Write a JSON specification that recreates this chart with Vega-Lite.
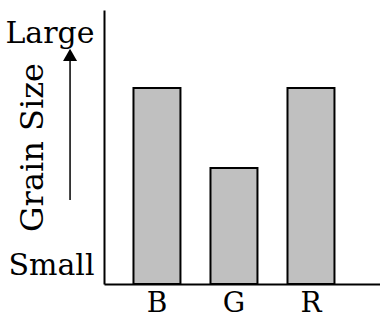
{
  "$schema": "https://vega.github.io/schema/vega-lite/v6.json",
  "width": 276,
  "height": 274,
  "autosize": "none",
  "padding": {"left": 104, "top": 10, "right": 0, "bottom": 35},
  "config": {
    "view": {"stroke": null},
    "font": "DejaVu Serif"
  },
  "resolve": {"scale": {"x": "independent"}},
  "layer": [
    {
      "data": {"values": [
        {"region": "B", "size": 0.715},
        {"region": "G", "size": 0.423},
        {"region": "R", "size": 0.715}
      ]},
      "mark": {"type": "bar", "fill": "#c0c0c0", "stroke": "black", "strokeWidth": 2},
      "encoding": {
        "x": {
          "field": "region", "type": "nominal",
          "scale": {"paddingInner": 0.39, "paddingOuter": 0.487, "align": 0.393},
          "axis": {
            "title": null, "labelAngle": 0, "ticks": false,
            "domainColor": "black", "domainWidth": 2,
            "labelFont": "DejaVu Serif", "labelFontSize": 28, "labelColor": "black",
            "labelPadding": 5
          }
        },
        "y": {
          "field": "size", "type": "quantitative",
          "scale": {"domain": [0, 1], "nice": false},
          "axis": {
            "title": "Grain Size", "grid": false, "ticks": false,
            "values": [0.066, 0.916],
            "labelExpr": "datum.value > 0.5 ? 'Large' : 'Small'",
            "domainColor": "black", "domainWidth": 2,
            "labelFont": "DejaVu Serif", "labelFontSize": 30, "labelColor": "black",
            "labelPadding": 10,
            "titleFont": "DejaVu Serif", "titleFontSize": 32, "titleFontWeight": "normal",
            "titleColor": "black", "titleX": -62, "titleBaseline": "alphabetic", "titleAngle": 270
          }
        }
      }
    },
    {
      "data": {"values": [{}]},
      "mark": {"type": "rule", "stroke": "black", "strokeWidth": 1.5},
      "encoding": {
        "x": {"datum": -0.123, "type": "quantitative", "scale": {"domain": [0, 1]}, "axis": null},
        "y": {"datum": 0.307, "type": "quantitative"},
        "y2": {"datum": 0.82}
      }
    },
    {
      "data": {"values": [{}]},
      "mark": {"type": "point", "shape": "triangle-up", "filled": true, "fill": "black", "stroke": null, "size": 196, "opacity": 1},
      "encoding": {
        "x": {"datum": -0.123, "type": "quantitative", "scale": {"domain": [0, 1]}, "axis": null},
        "y": {"datum": 0.836, "type": "quantitative"}
      }
    }
  ]
}
